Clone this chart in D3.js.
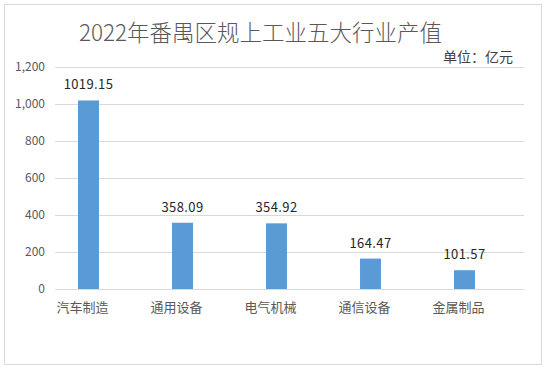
<!DOCTYPE html>
<html>
<head>
<meta charset="utf-8">
<script src="https://cdn.jsdelivr.net/npm/d3@7"></script>
<style>
  body { margin: 0; background: #fff; }
  text { font-family: "Noto Sans CJK SC", "DejaVu Sans", sans-serif; }
</style>
</head>
<body>
<div id="chart"></div>
<script>
var categories = ["汽车制造", "通用设备", "电气机械", "通信设备", "金属制品"];
var values = [1019.15, 358.09, 354.92, 164.47, 101.57];
var yTicks = [0, 200, 400, 600, 800, 1000, 1200];

var width = 547, height = 370;

var svg = d3.select("#chart").append("svg")
    .attr("width", width)
    .attr("height", height);

// chart frame
svg.append("rect")
    .attr("x", 4.5).attr("y", 4.5)
    .attr("width", 537).attr("height", 360)
    .attr("fill", "#fff")
    .attr("stroke", "#d9d9d9");

var x = d3.scaleBand()
    .domain(categories)
    .range([41.5, 511.5])
    .paddingInner(0.777)
    .paddingOuter(0.3885);

var y = d3.scaleLinear()
    .domain([0, 1200])
    .range([289, 67]);

// gridlines
svg.append("g").selectAll("line")
    .data(yTicks)
    .enter().append("line")
    .attr("x1", 55).attr("x2", 524)
    .attr("y1", function(d) { return Math.round(y(d)) + 0.5; })
    .attr("y2", function(d) { return Math.round(y(d)) + 0.5; })
    .attr("stroke", "#d9d9d9");

// y labels
svg.append("g").selectAll("text")
    .data(yTicks)
    .enter().append("text")
    .attr("x", 45)
    .attr("y", function(d) { return y(d); })
    .attr("dy", "0.35em")
    .attr("text-anchor", "end")
    .attr("font-size", 12)
    .attr("fill", "#595959")
    .text(function(d) { return d3.format(",")(d); });

// bars
svg.append("g").selectAll("rect")
    .data(values)
    .enter().append("rect")
    .attr("x", function(d, i) { return x(categories[i]); })
    .attr("y", function(d) { return y(d); })
    .attr("width", x.bandwidth())
    .attr("height", function(d) { return y(0) - y(d); })
    .attr("fill", "#5b9bd5");

// value labels
svg.append("g").selectAll("text")
    .data(values)
    .enter().append("text")
    .attr("x", function(d, i) { return x(categories[i]) + x.bandwidth() / 2; })
    .attr("y", function(d) { return y(d) - 11; })
    .attr("text-anchor", "middle")
    .attr("font-size", 13)
    .attr("letter-spacing", 0.4)
    .attr("fill", "#262626")
    .text(function(d) { return d.toFixed(2); });

// category labels
svg.append("g").selectAll("text")
    .data(categories)
    .enter().append("text")
    .attr("x", function(d) { return x(d) + x.bandwidth() / 2 - 6; })
    .attr("y", 312)
    .attr("text-anchor", "middle")
    .attr("font-size", 13)
    .attr("fill", "#595959")
    .text(function(d) { return d; });

// title
svg.append("text")
    .attr("x", 260.5)
    .attr("y", 41)
    .attr("text-anchor", "middle")
    .attr("font-size", 22.5)
    .attr("font-weight", 300)
    .attr("fill", "#595959")
    .text("2022年番禺区规上工业五大行业产值");

svg.append("text")
    .attr("x", 513)
    .attr("y", 62)
    .attr("text-anchor", "end")
    .attr("font-size", 14)
    .attr("fill", "#404040")
    .text("单位：亿元");
</script>
</body>
</html>
